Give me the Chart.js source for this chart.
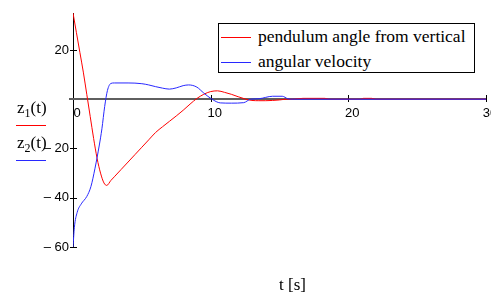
<!DOCTYPE html>
<html>
<head>
<meta charset="utf-8">
<script src="https://cdn.jsdelivr.net/npm/chart.js@4/dist/chart.umd.min.js"></script>
<style>
  html, body { margin: 0; padding: 0; background: #fff; }
  #wrap { position: relative; width: 491px; height: 293px; overflow: hidden; background: #fff; }
  #c { position: absolute; left: 0; top: 0; }
  .serif { font-family: "Liberation Serif", "Times New Roman", serif; color: #000; position: absolute; white-space: nowrap; }
  .ylab { font-size: 17px; line-height: 17px; }
  .ylab sub { font-size: 12px; vertical-align: -4px; line-height: 0; }
  .uline { position: absolute; height: 1px; }
  #legend { position: absolute; left: 218px; top: 23px; width: 255px; height: 48px; border: 1px solid #000; background: #fff; }
  .lrow { position: absolute; left: 0; height: 20px; }
  .lline { position: absolute; left: 2px; width: 30px; height: 1px; top: 11px; }
  .ltext { position: absolute; left: 39px; top: 0; font-family: "Liberation Serif", "Times New Roman", serif; font-size: 17.5px; line-height: 20px; white-space: nowrap; }
</style>
</head>
<body>
<div id="wrap">
  <canvas id="c" width="491" height="293"></canvas>
  <div class="serif ylab" style="left:17px; top:99px;">z<sub>1</sub>(t)</div>
  <div class="uline" id="u1" style="left:16px; top:125px; width:30px;"></div>
  <div class="serif ylab" style="left:17px; top:134px;">z<sub>2</sub>(t)</div>
  <div class="uline" id="u2" style="left:16px; top:160px; width:30px;"></div>
  <div class="serif" style="left:279px; top:275px; font-size:17px; line-height:20px;">t [s]</div>
  <div id="legend"></div>
</div>
<script>
// ---- data ----
const seriesLabels = ["pendulum angle from vertical", "angular velocity"];
const seriesColors = ["rgb(255,0,0)", "rgb(40,40,255)"];

const timeAngle = [0, 0.25, 0.5, 0.75, 1.0, 1.25, 1.5, 1.75, 2.0, 2.25, 2.45, 2.75, 3.0, 3.5, 4.0, 4.5, 5.0, 5.5, 6.0, 6.5, 7.0, 7.5, 8.0, 8.5, 9.0, 9.5, 10.0, 10.5, 11.0, 11.5, 12.0, 12.5, 13.0, 13.5, 14.0, 14.5, 15.0, 15.5, 16.0, 16.7, 18.3, 18.6, 20.9, 21.1, 21.7, 22.0, 30];
const angle     = [35, 27, 19, 11, 2, -7, -16, -24, -30, -34, -35, -33, -31.5, -28.5, -25.5, -22.5, -19.5, -16.5, -13.5, -11.2, -9, -6.8, -4.5, -2, 0.3, 2, 3.1, 3.4, 2.8, 2, 1, 0.1, -0.5, -0.6, -0.6, -0.5, -0.3, 0, 0, 0.35, 0.35, 0, 0, 0.35, 0.35, 0, 0];

const timeVelocity = [0, 0.1, 0.3, 0.6, 1.0, 1.3, 1.6, 1.9, 2.1, 2.3, 2.5, 2.75, 3.0, 4.0, 5.0, 5.5, 6.0, 6.5, 7.0, 7.5, 8.0, 8.4, 9.0, 9.5, 10.1, 10.7, 11.5, 12.4, 12.9, 13.5, 14.5, 15.2, 15.6, 16.0, 30];
const velocity     = [-60, -52, -46, -42.5, -39.5, -35.5, -28, -19, -12, -3, 3.5, 6.4, 6.6, 6.6, 6.3, 5.8, 5.1, 4.5, 4.1, 4.6, 5.5, 5.8, 4.9, 2.5, 0, -1.5, -1.6, -1.4, 0, 0.2, 1.2, 1.2, 0.2, 0, 0];

const xTickValues = [0, 10, 20, 30];
const yTickValues = [-60, -40, -20, 0, 20];
const xMin = 0, xMax = 30, yMin = -60, yMax = 35;

// ---- overlays built from the series info ----
document.getElementById('u1').style.background = seriesColors[0];
document.getElementById('u2').style.background = seriesColors[1];
const legend = document.getElementById('legend');
seriesLabels.forEach((lab, i) => {
  const row = document.createElement('div');
  row.className = 'lrow';
  row.style.top = (2 + i * 25) + 'px';
  row.style.width = '100%';
  const ln = document.createElement('div');
  ln.className = 'lline';
  ln.style.background = seriesColors[i];
  const tx = document.createElement('div');
  tx.className = 'ltext';
  tx.textContent = lab;
  row.appendChild(ln); row.appendChild(tx);
  legend.appendChild(row);
});

const toPts = (xs, ys) => xs.map((x, i) => ({ x: x, y: ys[i] }));

// custom axis decorations: zero line + crossing tick marks
const axisDeco = {
  id: 'axisDeco',
  beforeDatasetsDraw(chart) {
    const { ctx, chartArea, scales: { x, y } } = chart;
    const y0 = y.getPixelForValue(0);
    ctx.save();
    ctx.strokeStyle = '#5f5f5f';
    ctx.lineWidth = 2;
    ctx.beginPath();
    ctx.moveTo(chartArea.left - 4, Math.round(y0));
    ctx.lineTo(chartArea.right, Math.round(y0));
    ctx.stroke();
    ctx.strokeStyle = '#000';
    ctx.lineWidth = 1;
    ctx.beginPath();
    yTickValues.forEach(v => {
      if (v === 0) return;
      const py = Math.round(y.getPixelForValue(v)) + 0.5;
      ctx.moveTo(chartArea.left - 3, py);
      ctx.lineTo(chartArea.left + 4, py);
    });
    xTickValues.forEach(v => {
      if (v === 0) return;
      const px = Math.round(x.getPixelForValue(v)) + 0.5;
      ctx.moveTo(px, Math.round(y0) - 4);
      ctx.lineTo(px, Math.round(y0) + 3);
    });
    ctx.stroke();
    ctx.restore();
  }
};

new Chart(document.getElementById('c'), {
  type: 'line',
  data: {
    datasets: [
      { label: seriesLabels[0], data: toPts(timeAngle, angle), borderColor: seriesColors[0], borderWidth: 1, pointRadius: 0, fill: false, order: 2, cubicInterpolationMode: 'monotone' },
      { label: seriesLabels[1], data: toPts(timeVelocity, velocity), borderColor: seriesColors[1], borderWidth: 1, pointRadius: 0, fill: false, order: 1, cubicInterpolationMode: 'monotone' }
    ]
  },
  options: {
    responsive: false,
    devicePixelRatio: 1,
    animation: false,
    layout: { padding: { left: 1, right: 5, top: 13, bottom: 46 } },
    plugins: { legend: { display: false }, tooltip: { enabled: false }, title: { display: false } },
    scales: {
      x: {
        type: 'linear',
        min: xMin, max: xMax,
        position: { y: 0 },
        grid: { display: false, drawTicks: false },
        border: { display: false },
        afterBuildTicks: s => { s.ticks = xTickValues.map(v => ({ value: v })); },
        afterFit: s => { s.height = 0; s.paddingLeft = 0; s.paddingRight = 0; s.paddingTop = 0; s.paddingBottom = 0; },
        ticks: {
          autoSkip: false, maxRotation: 0, padding: 6, labelOffset: 4,
          color: '#000',
          font: { family: '"Liberation Sans", Arial, sans-serif', size: 13 },
          callback: v => String(v)
        }
      },
      y: {
        type: 'linear',
        min: yMin, max: yMax,
        grid: { display: false, drawTicks: false },
        border: { display: true, color: '#000', width: 1 },
        afterBuildTicks: s => { s.ticks = yTickValues.map(v => ({ value: v })); },
        afterFit: s => { s.width = 72; s.paddingTop = 0; s.paddingBottom = 0; s.paddingLeft = 0; s.paddingRight = 0; },
        ticks: {
          autoSkip: false, padding: 4,
          color: '#000',
          font: { family: '"Liberation Sans", Arial, sans-serif', size: 13 },
          callback: v => v === 0 ? '' : (v < 0 ? '\u2013 ' + Math.abs(v) : String(v))
        }
      }
    }
  },
  plugins: [axisDeco]
});
</script>
</body>
</html>
